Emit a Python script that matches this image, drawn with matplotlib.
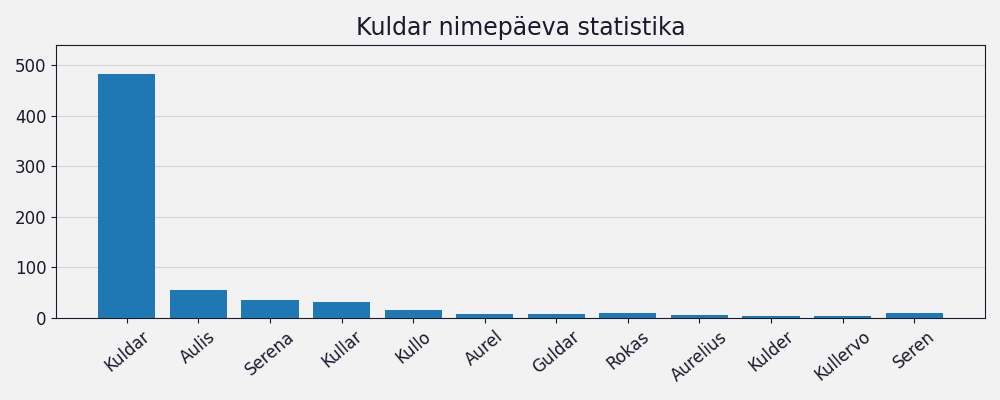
import matplotlib
matplotlib.use("Agg")
import matplotlib.pyplot as plt

names = ["Kuldar", "Aulis", "Serena", "Kullar", "Kullo", "Aurel", "Guldar",
         "Rokas", "Aurelius", "Kulder", "Kullervo", "Seren"]
counts = [483, 55, 36, 32, 16, 8, 8, 10, 6, 4, 4, 10]

txt = "#1a1a2e"
fig = plt.figure(figsize=(10, 4), dpi=100, facecolor="#f2f2f2")
ax = fig.add_axes([0.056, 0.205, 0.929, 0.6825], facecolor="#f2f2f2")
ax.bar(names, counts, width=0.8, color="#1f77b4", zorder=3)
ax.set_ylim(0, 540)
ax.grid(axis="y", color="#d5d5d5", linewidth=0.8, zorder=0)
ax.set_axisbelow(True)
ax.set_title("Kuldar nimepäeva statistika", fontsize=17, color=txt, pad=7)
ax.tick_params(axis="both", labelsize=12, colors=txt)
for lab in ax.get_xticklabels():
    lab.set_rotation(40)
    lab.set_ha("center")
for s in ax.spines.values():
    s.set_color(txt)
fig.savefig("out.png", dpi=100, facecolor=fig.get_facecolor())
